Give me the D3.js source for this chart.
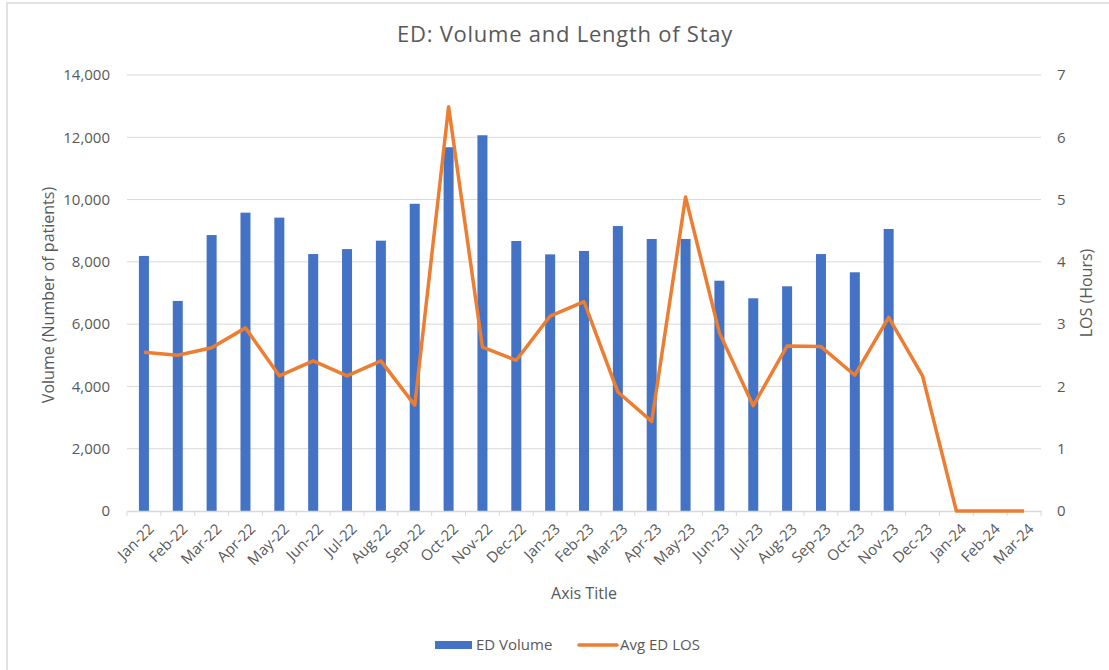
<!DOCTYPE html>
<html>
<head>
<meta charset="utf-8">
<script src="https://cdn.jsdelivr.net/npm/d3@7"></script>
<style>
  body { margin: 0; background: #fff; }
  text { font-family: "Open Sans", sans-serif; fill: #595959; }
</style>
</head>
<body>
<div id="chart"></div>
<script>
// categories (month labels)
const months = ["Jan-22", "Feb-22", "Mar-22", "Apr-22", "May-22", "Jun-22", "Jul-22", "Aug-22", "Sep-22",
    "Oct-22", "Nov-22", "Dec-22", "Jan-23", "Feb-23", "Mar-23", "Apr-23", "May-23", "Jun-23", "Jul-23",
    "Aug-23", "Sep-23", "Oct-23", "Nov-23", "Dec-23", "Jan-24", "Feb-24", "Mar-24"];

// ED volume (bars), null = no bar
const edVolume = [8190, 6745, 8860, 9580, 9420, 8250, 8410, 8680, 9865,
    11680, 12065, 8670, 8240, 8350, 9150, 8735, 8735, 7395, 6830,
    7215, 8250, 7665, 9055, null, null, null, null];

// average ED length of stay in hours (line)
const avgLos = [2.55, 2.50, 2.62, 2.94, 2.17, 2.41, 2.17, 2.41, 1.70,
    6.49, 2.63, 2.42, 3.13, 3.36, 1.91, 1.44, 5.04, 2.86, 1.69,
    2.65, 2.64, 2.18, 3.11, 2.17, 0, 0, 0];

const leftTicks = [0, 2000, 4000, 6000, 8000, 10000, 12000, 14000];
const rightTicks = [0, 1, 2, 3, 4, 5, 6, 7];

const W = 1109, H = 670;
const PLOT_L = 127, PLOT_R = 1041, PLOT_T = 75, PLOT_B = 511;
const FONT = "'Open Sans', sans-serif";

const svg = d3.select("#chart").append("svg")
    .attr("width", W)
    .attr("height", H);

// chart frame
svg.append("rect")
    .attr("x", 7).attr("y", 3)
    .attr("width", W + 10).attr("height", H + 10)
    .attr("fill", "#fff")
    .attr("stroke", "#d9d9d9")
    .attr("stroke-width", 1.5);

const x = d3.scaleBand().domain(months).range([PLOT_L, PLOT_R]);
const yL = d3.scaleLinear().domain([0, 14000]).range([PLOT_B, PLOT_T]);
const yR = d3.scaleLinear().domain([0, 7]).range([PLOT_B, PLOT_T]);

// gridlines
svg.append("g")
    .selectAll("line")
    .data(leftTicks.slice(1))
    .join("line")
    .attr("x1", PLOT_L).attr("x2", PLOT_R)
    .attr("y1", d => yL(d)).attr("y2", d => yL(d))
    .attr("stroke", "#d9d9d9")
    .attr("stroke-width", 1);

// left axis
const axL = svg.append("g")
    .attr("transform", `translate(${PLOT_L},0)`)
    .call(d3.axisLeft(yL).tickValues(leftTicks).tickSize(0).tickPadding(17).tickFormat(d3.format(",")));
axL.select(".domain").remove();
axL.selectAll("text").style("font-size", "15px").style("font-family", FONT).attr("fill", "#595959");

// right axis
const axR = svg.append("g")
    .attr("transform", `translate(${PLOT_R},0)`)
    .call(d3.axisRight(yR).tickValues(rightTicks).tickSize(0).tickPadding(16).tickFormat(d3.format("d")));
axR.select(".domain").remove();
axR.selectAll("text").style("font-size", "15px").style("font-family", FONT).attr("fill", "#595959");

// bars
const barW = 10;
svg.append("g")
    .selectAll("rect")
    .data(months.map((m, i) => ({ m: m, v: edVolume[i] })).filter(d => d.v != null))
    .join("rect")
    .attr("x", d => x(d.m) + x.bandwidth() / 2 - barW / 2)
    .attr("y", d => yL(d.v))
    .attr("width", barW)
    .attr("height", d => PLOT_B - yL(d.v))
    .attr("fill", "#4472c4");

// bottom axis
const axB = svg.append("g")
    .attr("transform", `translate(0,${PLOT_B})`)
    .call(d3.axisBottom(x).tickSize(0));
axB.select(".domain").attr("stroke", "#d9d9d9").attr("stroke-width", 1.5);
// category tick marks at band edges
axB.append("g")
    .selectAll("line")
    .data(months.concat(["end"]))
    .join("line")
    .attr("x1", (d, i) => PLOT_L + i * x.step())
    .attr("x2", (d, i) => PLOT_L + i * x.step())
    .attr("y1", 0).attr("y2", 5)
    .attr("stroke", "#d9d9d9");
axB.selectAll(".tick text")
    .style("font-size", "15px")
    .style("font-family", FONT)
    .attr("fill", "#595959")
    .attr("text-anchor", "end")
    .attr("dy", "0.35em")
    .attr("transform", "translate(5,13) rotate(-45)");

// LOS line
const line = d3.line()
    .x((d, i) => x(months[i]) + x.bandwidth() / 2)
    .y(d => yR(d));
svg.append("path")
    .datum(avgLos)
    .attr("d", line)
    .attr("fill", "none")
    .attr("stroke", "#ed7d31")
    .attr("stroke-width", 3.5)
    .attr("stroke-linejoin", "round");

// title
svg.append("text")
    .attr("x", 565).attr("y", 42)
    .attr("text-anchor", "middle")
    .style("font-size", "22px")
    .style("letter-spacing", "0.75px")
    .text("ED: Volume and Length of Stay");

// axis titles
svg.append("text")
    .attr("transform", "translate(54,295) rotate(-90)")
    .attr("text-anchor", "middle")
    .style("font-size", "16px")
    .text("Volume (Number of patients)");

svg.append("text")
    .attr("transform", "translate(1092,293) rotate(-90)")
    .attr("text-anchor", "middle")
    .style("font-size", "16px")
    .text("LOS (Hours)");

svg.append("text")
    .attr("x", 584).attr("y", 599)
    .attr("text-anchor", "middle")
    .style("font-size", "16px")
    .text("Axis Title");

// legend
const lg = svg.append("g");
lg.append("rect")
    .attr("x", 435).attr("y", 641)
    .attr("width", 37).attr("height", 8)
    .attr("fill", "#4472c4");
lg.append("text")
    .attr("x", 476).attr("y", 650)
    .style("font-size", "15px")
    .text("ED Volume");
lg.append("line")
    .attr("x1", 579).attr("x2", 617)
    .attr("y1", 645).attr("y2", 645)
    .attr("stroke", "#ed7d31")
    .attr("stroke-width", 3.5)
    .attr("stroke-linecap", "round");
lg.append("text")
    .attr("x", 620).attr("y", 650)
    .style("font-size", "15px")
    .text("Avg ED LOS");
</script>
</body>
</html>
